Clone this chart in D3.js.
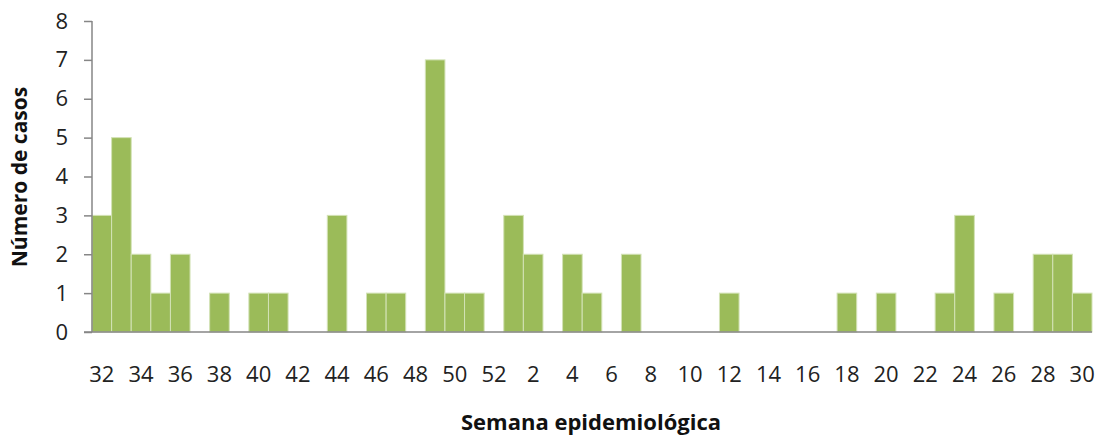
<!DOCTYPE html>
<html><head><meta charset="utf-8">
<script src="https://cdn.jsdelivr.net/npm/d3@7"></script>
<style>body{margin:0;background:#fff}svg{display:block}</style>
</head><body>
<svg id="c" width="1098" height="437"></svg>
<script>
const weeks = [32,33,34,35,36,37,38,39,40,41,42,43,44,45,46,47,48,49,50,51,52,1,2,3,4,5,6,7,8,9,10,11,12,13,14,15,16,17,18,19,20,21,22,23,24,25,26,27,28,29,30];
const casos = [3,5,2,1,2,0,1,0,1,1,0,0,3,0,1,1,0,7,1,1,0,3,2,0,2,1,0,2,0,0,0,0,1,0,0,0,0,0,1,0,1,0,0,1,3,0,1,0,2,2,1];
const yTicks = [0,1,2,3,4,5,6,7,8];
const xTickLabels = [32,34,36,38,40,42,44,46,48,50,52,2,4,6,8,10,12,14,16,18,20,22,24,26,28,30];
const yTitle = "Número de casos";
const xTitle = "Semana epidemiológica";

(function(){
const svg = d3.select("#c");
const mLeft = 92, mRight = 1092, mTop = 21, mBottom = 332;
const keys = weeks.map((w,i)=>i);
const x = d3.scaleBand().domain(keys).range([mLeft,mRight]).padding(0);
const y = d3.scaleLinear().domain([0,8]).range([mBottom,mTop]);
const font = "Open Sans, sans-serif";

svg.append("g").selectAll("rect").data(casos).join("rect")
  .attr("x",(d,i)=>x(i)).attr("width",x.bandwidth())
  .attr("y",d=>y(d)).attr("height",d=>mBottom-y(d))
  .attr("fill","#9BBB59").attr("stroke","#d3e2b6").attr("stroke-width",1)
  .style("display",d=>d>0?null:"none");

const ya = svg.append("g").attr("transform",`translate(${mLeft},0)`)
  .call(d3.axisLeft(y).tickValues(yTicks).tickSize(8).tickPadding(16).tickFormat(d3.format("d")));
ya.select(".domain").attr("stroke","#868686").attr("stroke-width",1.5).attr("d",`M0,${mTop}V${mBottom}`);
ya.selectAll(".tick line").attr("stroke","#868686").attr("stroke-width",1.5);
ya.selectAll(".tick text").attr("font-family",font).attr("font-size",22).attr("fill","#222");

const labelSet = new Set(xTickLabels);
const xa = svg.append("g").attr("transform",`translate(0,${mBottom})`)
  .call(d3.axisBottom(x).tickValues(keys.filter(i=>labelSet.has(weeks[i]) && (i%2===0))).tickSize(0).tickPadding(34)
    .tickFormat(i=>weeks[i]));
xa.select(".domain").attr("stroke","#868686").attr("stroke-width",1.5).attr("d",`M${mLeft-8},0H${mRight}`);
xa.selectAll(".tick text").attr("font-family",font).attr("font-size",22).attr("fill","#222");

svg.append("text").attr("transform",`translate(27,177) rotate(-90)`)
  .attr("text-anchor","middle").attr("font-family",font).attr("font-weight","bold")
  .attr("font-size",21).attr("fill","#111").text(yTitle);
svg.append("text").attr("x",591).attr("y",430)
  .attr("text-anchor","middle").attr("font-family",font).attr("font-weight","bold")
  .attr("font-size",22).attr("fill","#111").text(xTitle);
})();
</script>
</body></html>
